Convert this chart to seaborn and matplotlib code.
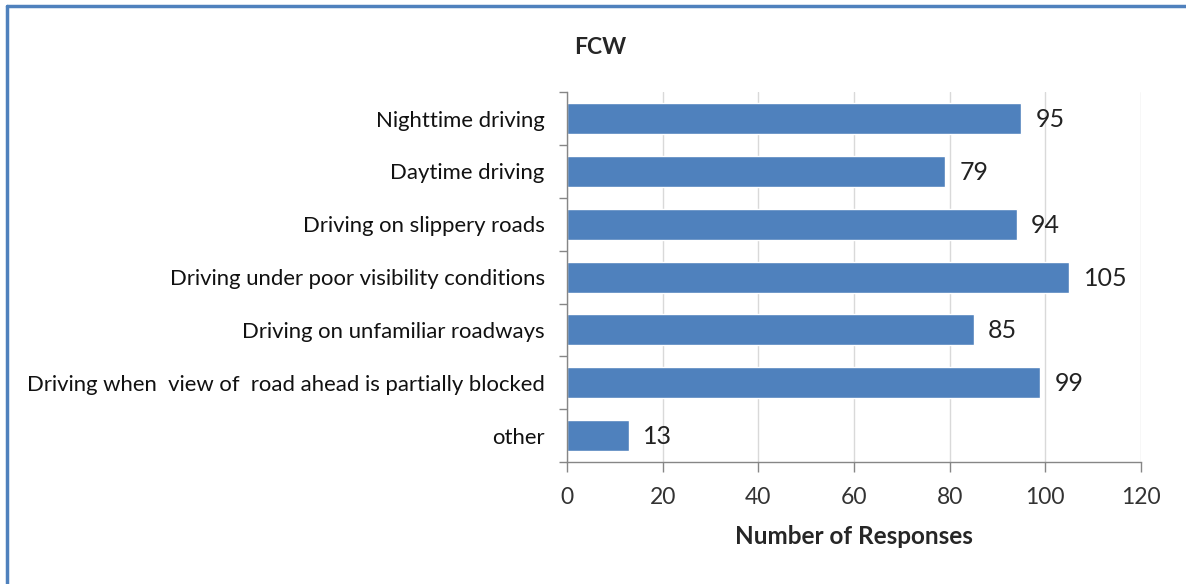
import seaborn as sns
import matplotlib.pyplot as plt
import pandas as pd
from matplotlib.lines import Line2D

# dati
categories = [
    "Nighttime driving",
    "Daytime driving",
    "Driving on slippery roads",
    "Driving under poor visibility conditions",
    "Driving on unfamiliar roadways",
    "Driving when  view of  road ahead is partially blocked",
    "other",
]
responses = [95, 79, 94, 105, 85, 99, 13]
x_ticks = [0, 20, 40, 60, 80, 100, 120]

df = pd.DataFrame({"category": categories, "responses": responses})

sns.set_style("white")
plt.rcParams["font.family"] = ["Lato", "DejaVu Sans"]

fig = plt.figure(figsize=(11.86, 5.84), dpi=100)
ax = fig.add_axes([0.478, 0.209, 0.484, 0.633])

sns.barplot(data=df, y="category", x="responses", orient="h",
            color="#4F81BD", saturation=1, width=0.59, ax=ax)

# etichette valori
for i, v in enumerate(responses):
    ax.text(v + 3.0, i + 0.02, str(v), va="center", ha="left", fontsize=18, color="#222222")

ax.set_xlim(0, 120)
ax.set_ylim(len(categories) - 0.5, -0.5)
ax.set_xticks(x_ticks)
ax.set_xticklabels([str(t) for t in x_ticks], fontsize=16.5, color="#333333")
ax.tick_params(axis="x", bottom=True, length=7, width=1, color="#868686", pad=11, direction="out")

# tick dell'asse y ai confini delle categorie
ax.set_yticks(range(len(categories)))
ax.set_yticklabels(categories, fontsize=15.9, color="#111111")
ax.tick_params(axis="y", which="major", left=False, length=0, pad=16)
ax.set_yticks([i - 0.5 for i in range(len(categories) + 1)], minor=True)
ax.tick_params(axis="y", which="minor", left=True, length=6, width=1, color="#868686", direction="out")

ax.grid(axis="x", color="#d9d9d9", linewidth=1)
ax.set_axisbelow(True)
for s in ["top", "right"]:
    ax.spines[s].set_visible(False)
for s in ["left", "bottom"]:
    ax.spines[s].set_color("#868686")
    ax.spines[s].set_linewidth(1)

ax.set_ylabel("")
ax.set_xlabel("Number of Responses", fontsize=17.5, fontweight="bold", labelpad=12)

fig.text(600 / 1186, 1 - 47 / 584, "FCW", fontsize=16.5, fontweight="bold",
         ha="center", va="center")

# bordo blu in alto e a sinistra
fig.add_artist(Line2D([7 / 1186, 1], [1 - 6 / 584, 1 - 6 / 584], color="#4F81BD",
                      linewidth=2.5, transform=fig.transFigure))
fig.add_artist(Line2D([7 / 1186, 7 / 1186], [0, 1 - 6 / 584], color="#4F81BD",
                      linewidth=2.5, transform=fig.transFigure))

fig.savefig("out.png", dpi=100)
